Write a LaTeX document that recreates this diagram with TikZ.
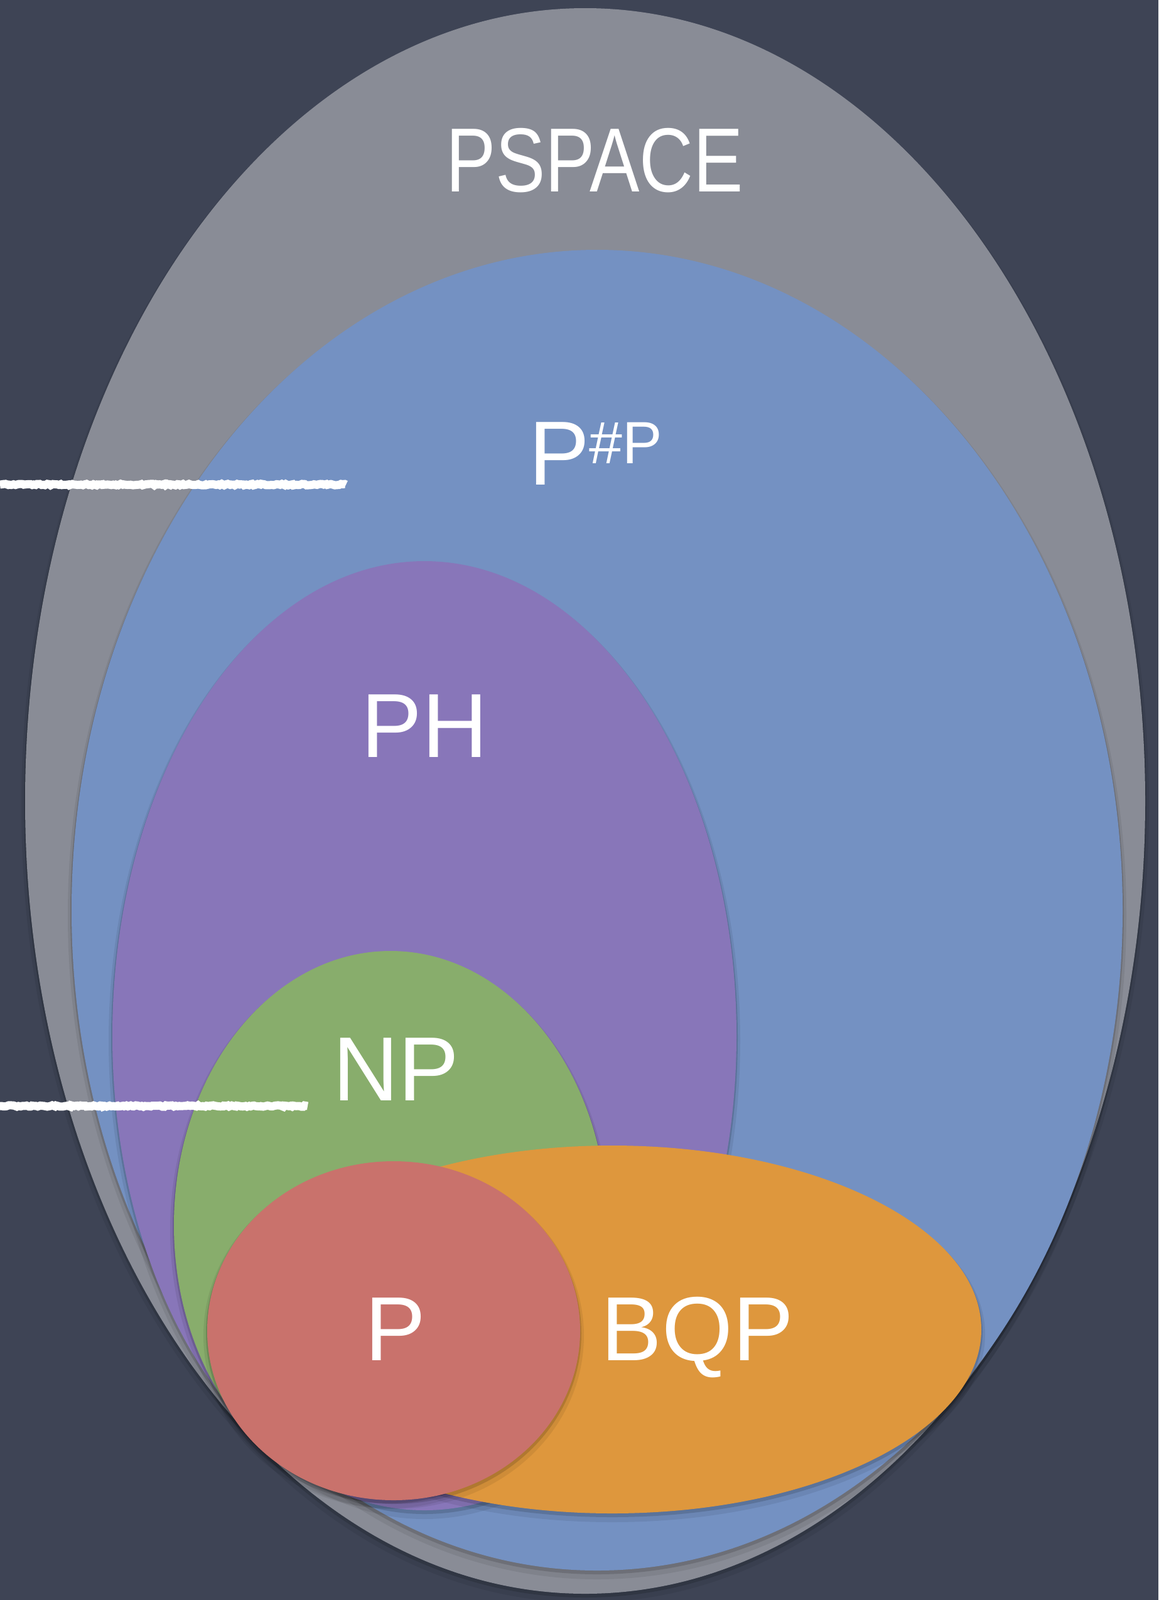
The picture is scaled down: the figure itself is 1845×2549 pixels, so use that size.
\documentclass[tikz,border=0pt]{standalone}
\usepackage{fontspec}
\usepackage{graphicx}
\setmainfont{Liberation Sans}
\usetikzlibrary{decorations.pathmorphing}
\definecolor{board}{HTML}{3E4455}
\definecolor{cpspace}{HTML}{898C96}
\definecolor{csharp}{HTML}{7491C2}
\definecolor{cph}{HTML}{8876B9}
\definecolor{cnp}{HTML}{88AD6C}
\definecolor{cbqp}{HTML}{DE973D}
\definecolor{cp}{HTML}{C9726C}
\tikzset{
  shade1/.style={fill=black, opacity=0.14},
  shade2/.style={fill=black, opacity=0.07},
  lab/.style={text=white, inner sep=0pt, anchor=base, font=\fontsize{145}{150}\selectfont},
  chalk/.style={draw=white, line width=13pt, decorate,
    decoration={random steps, segment length=3pt, amplitude=1.2pt}},
}
\newcommand{\classset}[5]{%
  \fill[shade2] (#2,#3+8) ellipse [x radius=#4+6, y radius=#5+6];
  \fill[shade1] (#2,#3+4) ellipse [x radius=#4+2, y radius=#5+2];
  \fill[#1] (#2,#3) ellipse [x radius=#4, y radius=#5];
}
\begin{document}
\begin{tikzpicture}[x=1pt, y=-1pt]
  \fill[board] (0,0) rectangle (1845,2549);
  \useasboundingbox (0,0) rectangle (1845,2549);
  % nested classes
  \classset{cpspace}{932}{1276}{892}{1263}
  \classset{csharp}{951}{1450}{837}{1052}
  \classset{cph}{676}{1650}{497}{756}
  \classset{cnp}{622}{1952}{345}{437}
  \classset{cbqp}{975}{2118}{588}{293}
  \classset{cp}{627}{2120}{297}{270}
  % labels
  \node[lab] (pspace) at (947,305) {\scalebox{0.82}[1]{PSPACE}};
  \node[lab, anchor=base west] (psharp) at (842,772) {P\raisebox{34pt}{\fontsize{95}{100}\selectfont\#P}};
  \node[lab] (ph) at (676,1206) {PH};
  \node[lab] (np) at (631,1753) {NP};
  \node[lab] (p) at (630,2167) {P};
  \node[lab] (bqp) at (1111,2167) {BQP};
  % chalk marks
  \coordinate (m1a) at (0,772);
  \coordinate (m1b) at (551,772);
  \coordinate (m2a) at (0,1762);
  \coordinate (m2b) at (490,1762);
  \draw[chalk] (m1a) -- (m1b);
  \draw[chalk] (m2a) -- (m2b);
\end{tikzpicture}
\end{document}
